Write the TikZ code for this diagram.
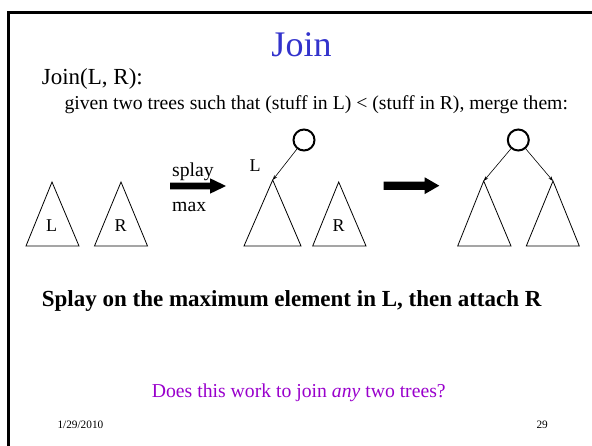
\documentclass[tikz,border=0pt]{standalone}
\usepackage{fontspec}
\setmainfont{Liberation Serif}
\usetikzlibrary{arrows.meta}
\definecolor{titleblue}{RGB}{51,51,204}
\definecolor{askpurple}{RGB}{153,0,204}

\begin{document}
\begin{tikzpicture}[x=1pt, y=-1pt, inner sep=0pt,
    tree/.style={line width=0.8pt},
    root/.style={circle, draw, line width=2pt, minimum size=21pt},
    link/.style={line width=0.6pt, -{Stealth[length=5pt, width=3.5pt]}},
    lbl/.style={anchor=base, font=\fontsize{18}{20}\selectfont}]
    \useasboundingbox (0,0) rectangle (592,446);
    \draw[line width=2.5pt] (8.5,450) -- (8.5,12.5) -- (596,12.5);

    \node[anchor=base, text=titleblue, font=\fontsize{36}{40}\selectfont] (title) at (301.5,57) {Join};
    \node[anchor=base west, font=\fontsize{23}{27}\selectfont] (call) at (41.7,85) {Join(L, R):};
    \node[anchor=base west, font=\fontsize{19.7}{23}\selectfont] (given) at (64.3,110) {given two trees such that (stuff in L) < (stuff in R), merge them:};

    % before: L and R
    \draw[tree] (52,182) -- (79,246) -- (26,246) -- cycle;
    \node[lbl] (labL) at (51.5,231.7) {L};
    \draw[tree] (121,182) -- (147.5,246) -- (94.5,246) -- cycle;
    \node[lbl] (labR) at (120.7,231.7) {R};

    \fill (170,182.7) -- (210,182.7) -- (210,178.3) -- (226,186) -- (210,193.7) -- (210,189.3) -- (170,189.3) -- cycle;
    \node[anchor=base west, font=\fontsize{19.7}{23}\selectfont] (splay) at (172,177) {splay};
    \node[anchor=base west, font=\fontsize{19.7}{23}\selectfont] (max) at (172,211.7) {max};

    % after splay
    \node[root] (midroot) at (304,140) {};
    \coordinate (midtop) at (272.7,180);
    \draw[tree] (midtop) -- (301,246) -- (244,246) -- cycle;
    \draw[link] (midroot) -- (midtop);
    \node[lbl] (midL) at (255,171.7) {L};
    \draw[tree] (338.7,182) -- (366,246) -- (312.7,246) -- cycle;
    \node[lbl] (midR) at (338.7,231.7) {R};

    \fill (383.7,181.7) -- (424.7,181.7) -- (424.7,177.3) -- (439.3,185.7) -- (424.7,194.1) -- (424.7,190) -- (383.7,190) -- cycle;

    % joined
    \node[root] (joinroot) at (518.3,140) {};
    \coordinate (lefttop) at (483.7,181);
    \coordinate (righttop) at (553,181);
    \draw[tree] (lefttop) -- (511,246) -- (457.7,246) -- cycle;
    \draw[tree] (righttop) -- (579.3,246) -- (526.3,246) -- cycle;
    \draw[link] (joinroot) -- (lefttop);
    \draw[link] (joinroot) -- (righttop);

    \node[anchor=base west, font=\bfseries\fontsize{23}{27}\selectfont] (rule) at (41.7,307) {Splay on the maximum element in L, then attach R};
    \node[anchor=base west, text=askpurple, font=\fontsize{19.7}{23}\selectfont] (ask) at (151.7,397.3) {Does this work to join \textit{any} two trees?};

    \node[anchor=base west, font=\fontsize{11.3}{13}\selectfont] (date) at (57.3,428.7) {1/29/2010};
    \node[anchor=base west, font=\fontsize{11.3}{13}\selectfont] (page) at (536.3,428.7) {29};
\end{tikzpicture}
\end{document}
